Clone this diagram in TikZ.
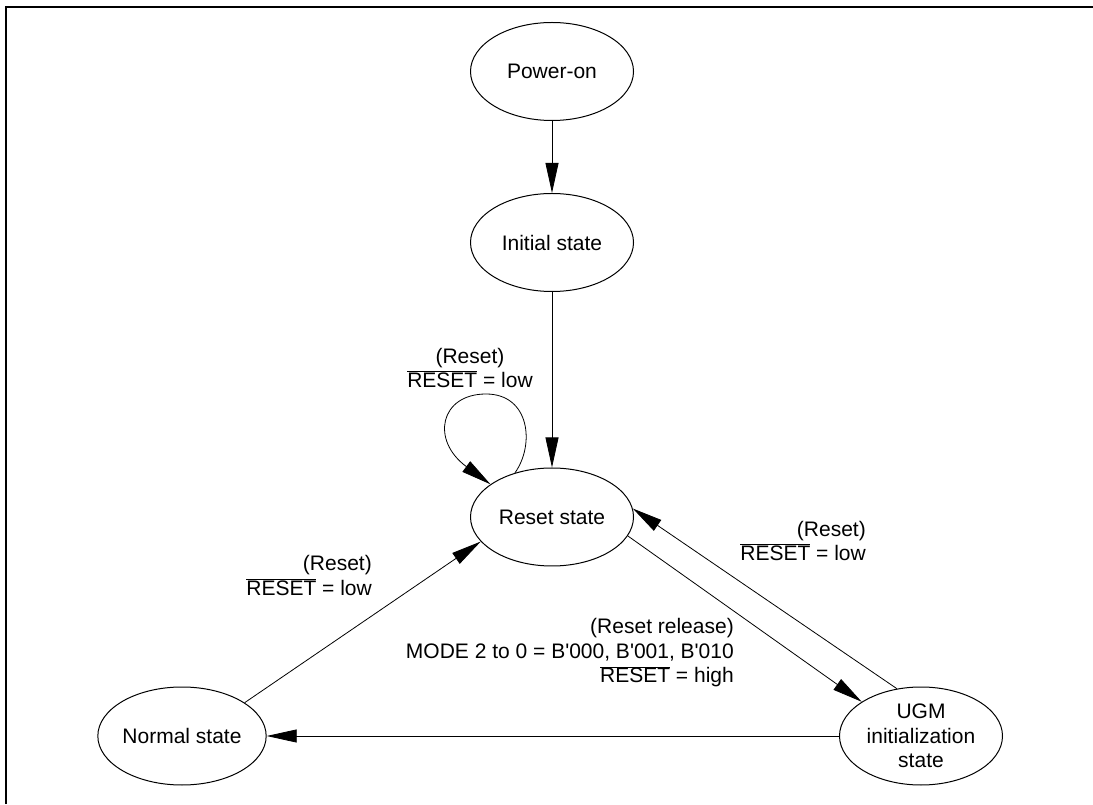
\documentclass[tikz,border=0pt]{standalone}
\usepackage{fontspec}
\setmainfont{Liberation Sans}
\usepackage{tikz}
\usetikzlibrary{arrows.meta}
\usetikzlibrary{shapes}
\newcommand{\resetbar}{$\overline{\mbox{RESET}}$}
\begin{document}
\begin{tikzpicture}[x=1pt,y=1pt,
  every node/.append style={font=\fontsize{21}{24.5}\selectfont},
  state/.style={draw,ellipse,line width=1pt,minimum width=163pt,minimum height=98pt,inner sep=0pt,align=center},
  trans/.style={line width=0.8pt,-{Triangle[length=30pt,width=13pt]}},
  cond/.style={inner sep=0pt}]
\useasboundingbox (0,0) rectangle (1093,804);
\draw[line width=2pt] (6,0) -- (6,797) -- (1093,797);
% states
\node[state] (power) at (552,732.5) {Power-on};
\node[state] (init) at (552,561.5) {Initial state};
\node[state] (reset) at (552,287) {Reset state};
\node[state] (normal) at (182,68) {Normal state};
\node[state] (ugm) at (921,68) {UGM\\initialization\\state};
% transitions
\draw[trans] (power) -- (init);
\draw[trans] (init) -- (reset);
\coordinate (looptop) at (486,410);
\draw[trans] (reset.130) .. controls +(20,28) and +(44,0) .. (looptop)
  .. controls +(-46,0) and +(-60,44) .. (reset.152);
\draw[trans] (reset.-14) -- (ugm.150);
\draw[trans] (ugm.117) -- (reset.6);
\draw[trans] (ugm.west) -- (normal.east);
\draw[trans] (normal.28) -- (reset.199);
% conditions
\node[cond,align=center] (lblloop) at (470,436) {(Reset)\\\resetbar{} = low};
\node[cond,align=right,anchor=east] (lblleft) at (372,228.5) {(Reset)\\\resetbar{} = low};
\node[cond,align=right,anchor=east] (lblright) at (866,263) {(Reset)\\\resetbar{} = low};
\node[cond,align=right,anchor=east] (lblrelease) at (734,151) {(Reset release)\\MODE 2 to 0 = B\textquotesingle000, B\textquotesingle001, B\textquotesingle010\\\resetbar{} = high};
\end{tikzpicture}
\end{document}
